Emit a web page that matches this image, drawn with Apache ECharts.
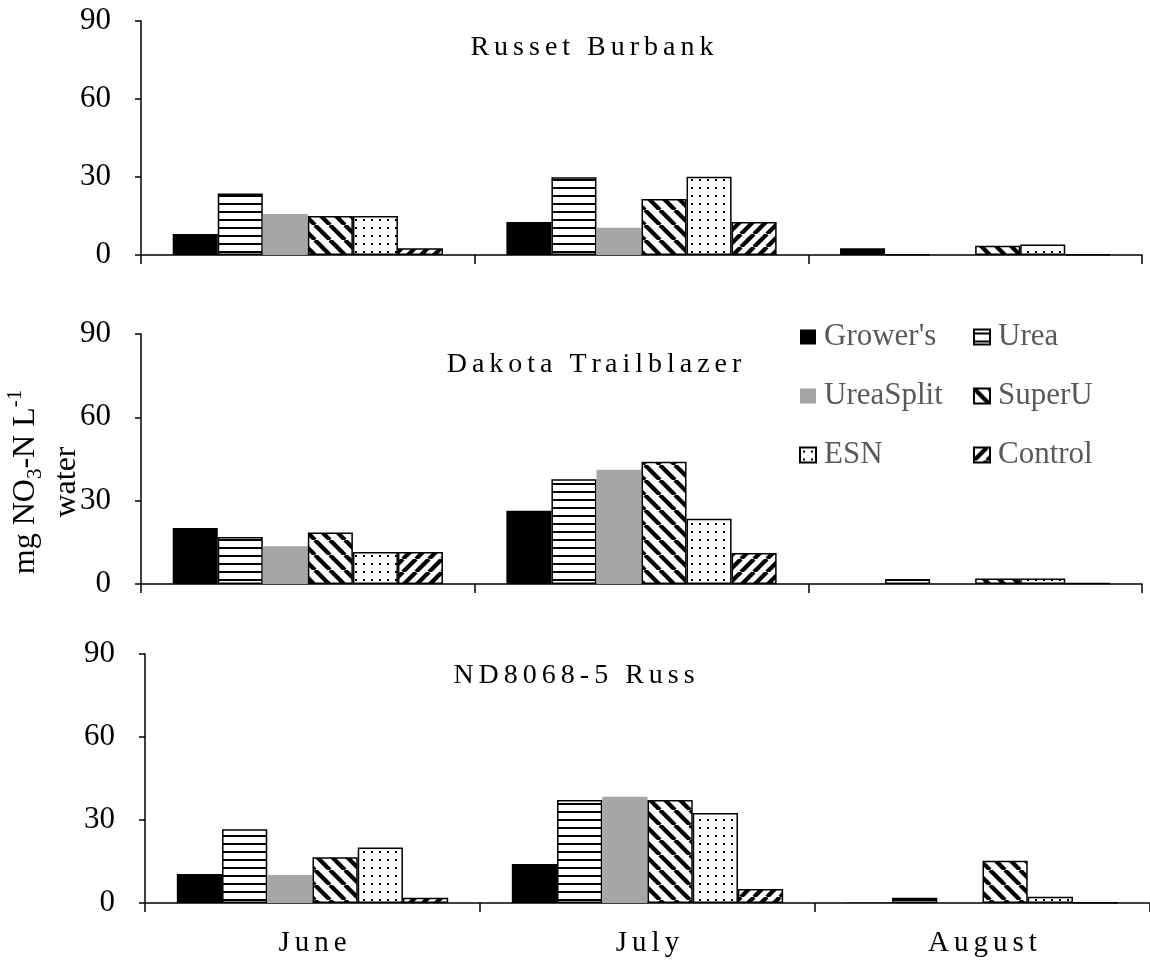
<!DOCTYPE html>
<html>
<head>
<meta charset="utf-8">
<script src="https://cdn.jsdelivr.net/npm/echarts@6/dist/echarts.min.js"></script>
<style>
html,body{margin:0;padding:0;background:#fff;}
#chart{width:1150px;height:960px;}
</style>
</head>
<body>
<div id="chart"></div>
<script>
// ---------------- data ----------------
const categories = ['June', 'July', 'August'];
const seriesNames = ["Grower's", 'Urea', 'UreaSplit', 'SuperU', 'ESN', 'Control'];
const panelTitles = ['Russet Burbank', 'Dakota Trailblazer', 'ND8068-5 Russ'];
const yTicks = [0, 30, 60, 90];

// Russet Burbank
const rbGrowers   = [8.1, 12.7, 2.6];
const rbUrea      = [23.7, 29.9, 0.2];
const rbUreaSplit = [15.8, 10.5, 0];
const rbSuperU    = [15.0, 21.5, 3.6];
const rbESN       = [15.0, 30.1, 4.0];
const rbControl   = [2.6, 12.7, 0.2];

// Dakota Trailblazer
const dtGrowers   = [20.2, 26.4, 0];
const dtUrea      = [16.9, 37.7, 1.8];
const dtUreaSplit = [13.6, 41.1, 0];
const dtSuperU    = [18.5, 44.0, 2.0];
const dtESN       = [11.5, 23.5, 2.0];
const dtControl   = [11.5, 11.2, 0.3];

// ND8068-5 Russ
const ndGrowers   = [10.5, 14.1, 0.2];
const ndUrea      = [26.7, 37.2, 1.9];
const ndUreaSplit = [10.1, 38.4, 0];
const ndSuperU    = [16.5, 37.2, 15.3];
const ndESN       = [20.1, 32.5, 2.3];
const ndControl   = [1.9, 5.1, 0.2];

const panels = [
  [rbGrowers, rbUrea, rbUreaSplit, rbSuperU, rbESN, rbControl],
  [dtGrowers, dtUrea, dtUreaSplit, dtSuperU, dtESN, dtControl],
  [ndGrowers, ndUrea, ndUreaSplit, ndSuperU, ndESN, ndControl]
];

// ---------------- letter-spaced text (titles, month labels) ----------------
const SPACED = {};
panelTitles.forEach(t => SPACED[t] = 5);
categories.forEach(t => SPACED[t] = 5);
const origFill = CanvasRenderingContext2D.prototype.fillText;
CanvasRenderingContext2D.prototype.fillText = function (t, x, y, mw) {
  const ls = (typeof t === 'string') ? SPACED[t] : undefined;
  if (!ls) {
    return mw === undefined ? origFill.call(this, t, x, y) : origFill.call(this, t, x, y, mw);
  }
  const chars = Array.from(t);
  const total = this.measureText(t).width + ls * (chars.length - 1);
  const align = this.textAlign;
  let start = x;
  if (align === 'center') start = x - total / 2;
  else if (align === 'right' || align === 'end') start = x - total;
  this.textAlign = 'left';
  let prefix = '';
  for (let i = 0; i < chars.length; i++) {
    const px = start + this.measureText(prefix).width + ls * i;
    origFill.call(this, chars[i], px, y);
    prefix += chars[i];
  }
  this.textAlign = align;
};

// ---------------- patterns ----------------
function makeCanvas(w, h) {
  const c = document.createElement('canvas');
  c.width = w; c.height = h;
  const ctx = c.getContext('2d');
  ctx.fillStyle = '#fff';
  ctx.fillRect(0, 0, w, h);
  return [c, ctx];
}
function hLines() {
  const [c, ctx] = makeCanvas(8, 8);
  ctx.fillStyle = '#000';
  ctx.fillRect(0, 3, 8, 2);
  return c;
}
function diag(size, width, back) {
  const [c, ctx] = makeCanvas(size, size);
  ctx.strokeStyle = '#000';
  ctx.lineWidth = width;
  for (let k = -1; k <= 1; k++) {
    ctx.beginPath();
    if (back) { ctx.moveTo(k * size, 0); ctx.lineTo(k * size + size, size); }
    else { ctx.moveTo(k * size, size); ctx.lineTo(k * size + size, 0); }
    ctx.stroke();
  }
  return c;
}
function dots() {
  const [c, ctx] = makeCanvas(8, 8);
  ctx.fillStyle = '#000';
  ctx.fillRect(3, 3, 2, 2);
  return c;
}

const FONT = '"Liberation Serif", "Times New Roman", serif';
const styles = [
  { color: '#000000', borderWidth: 0 },
  { color: { image: hLines(), repeat: 'repeat' }, borderColor: '#000', borderWidth: 1.5 },
  { color: '#a6a6a6', borderWidth: 0 },
  { color: { image: diag(15, 4.2, true), repeat: 'repeat' }, borderColor: '#000', borderWidth: 1.5 },
  { color: { image: dots(), repeat: 'repeat' }, borderColor: '#000', borderWidth: 1.5 },
  { color: { image: diag(13, 4.2, false), repeat: 'repeat' }, borderColor: '#000', borderWidth: 1.5 }
];

const grids = [
  { left: 141, top: 21, width: 1001, height: 234 },
  { left: 141, top: 334, width: 1001, height: 250 },
  { left: 145, top: 654, width: 1009, height: 249 }
];

const xAxes = grids.map((g, i) => ({
  type: 'category',
  gridIndex: i,
  data: categories,
  axisLine: { lineStyle: { color: '#000', width: 1.5 } },
  axisTick: { show: true, length: 9, lineStyle: { color: '#000', width: 1.5 } },
  axisLabel: {
    show: i === 2, margin: 26, color: '#000', fontSize: 29, fontFamily: FONT
  }
}));

const yAxes = grids.map((g, i) => ({
  type: 'value',
  gridIndex: i,
  min: yTicks[0], max: yTicks[yTicks.length - 1], interval: 30,
  splitLine: { show: false },
  axisLine: { show: true, lineStyle: { color: '#000', width: 1.5 } },
  axisTick: { show: true, length: 6, lineStyle: { color: '#000', width: 1.5 } },
  axisLabel: { margin: 30, color: '#000', fontSize: 31, fontFamily: FONT }
}));

const series = [];
panels.forEach((vals, p) => {
  vals.forEach((arr, s) => {
    series.push({
      type: 'bar',
      name: seriesNames[s],
      xAxisIndex: p, yAxisIndex: p,
      data: arr,
      barGap: '0%',
      barCategoryGap: '19%',
      itemStyle: styles[s],
      emphasis: { disabled: true },
      silent: true
    });
  });
});

const legendCommon = {
  orient: 'vertical',
  top: 321,
  itemGap: 27,
  itemWidth: 16,
  itemHeight: 15,
  icon: 'rect',
  selectedMode: false,
  padding: 0,
  textStyle: { color: '#595959', fontSize: 31, fontFamily: FONT, lineHeight: 32, padding: [0, 0, 0, 3] }
};

const titleY = [48, 365, 676];
const titleX = [592, 594, 574];
const graphics = panelTitles.map((t, i) => ({
  type: 'text', x: titleX[i], y: titleY[i], silent: true,
  style: {
    text: t, fill: '#000', fontSize: 28, fontFamily: FONT,
    align: 'center', verticalAlign: 'middle', textAlign: 'center', textVerticalAlign: 'middle'
  }
}));
graphics.push({
  type: 'text', x: 46, y: 482, rotation: Math.PI / 2, silent: true,
  style: {
    text: '{a|mg NO}{s|3}{a|-N L}{p|-1}\n{a|water}',
    fill: '#000',
    align: 'center', verticalAlign: 'middle', textAlign: 'center', textVerticalAlign: 'middle',
    rich: {
      a: { fontSize: 32, fontFamily: FONT, lineHeight: 41, fill: '#000', color: '#000' },
      s: { fontSize: 21, fontFamily: FONT, lineHeight: 21, verticalAlign: 'bottom', fill: '#000', color: '#000' },
      p: { fontSize: 21, fontFamily: FONT, lineHeight: 23, verticalAlign: 'top', fill: '#000', color: '#000' }
    }
  }
});

const chart = echarts.init(document.getElementById('chart'), null, { renderer: 'canvas' });
chart.setOption({
  animation: false,
  backgroundColor: '#fff',
  grid: grids,
  xAxis: xAxes,
  yAxis: yAxes,
  legend: [
    Object.assign({}, legendCommon, { left: 799, data: ["Grower's", 'UreaSplit', 'ESN'] }),
    Object.assign({}, legendCommon, { left: 973, data: ['Urea', 'SuperU', 'Control'] })
  ],
  graphic: graphics,
  series: series
});
</script>
</body>
</html>
